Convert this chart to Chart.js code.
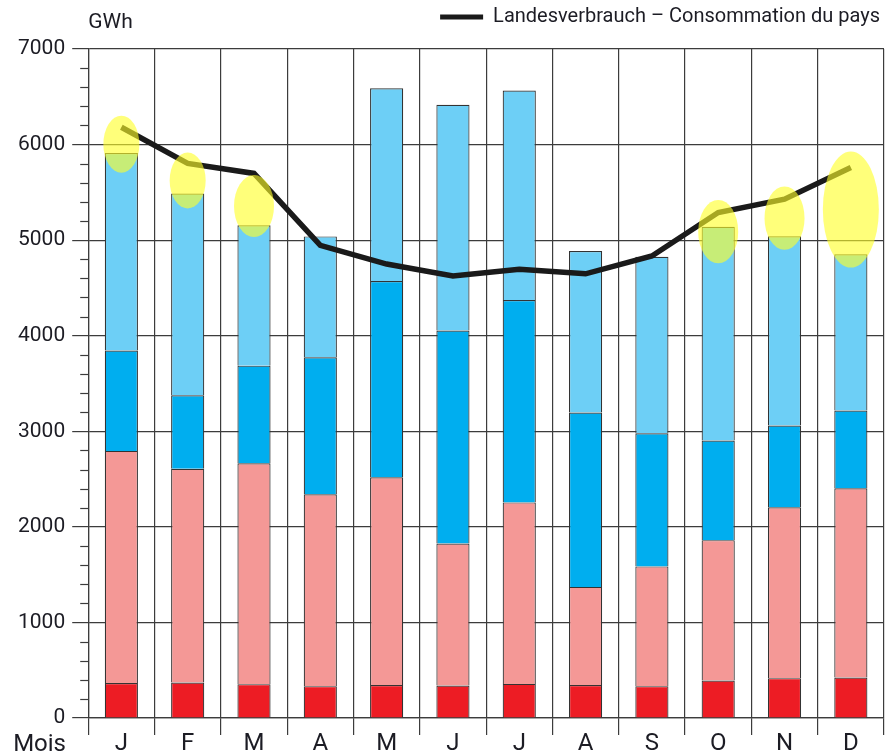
<!DOCTYPE html>
<html>
<head>
<meta charset="utf-8">
<script src="https://cdn.jsdelivr.net/npm/chart.js@4.4.1/dist/chart.umd.min.js"></script>
<style>
  html, body { margin: 0; padding: 0; background: #fff; }
  #wrap { width: 891px; height: 753px; }
</style>
</head>
<body>
<div id="wrap"><canvas id="myChart"></canvas></div>
<script>
/****************************************************/
/*********************chart data*********************/
/****************************************************/
const months = ['J', 'F', 'M', 'A', 'M', 'J', 'J', 'A', 'S', 'O', 'N', 'D'];
const yTicks = [0, 1000, 2000, 3000, 4000, 5000, 6000, 7000];

// stacked production segments (GWh), bottom to top
const thermal = [367, 371, 354, 333, 346, 340, 357, 346, 333, 392, 417, 424];
const nuclear = [2428, 2236, 2311, 2007, 2172, 1486, 1899, 1026, 1253, 1469, 1787, 1979];
const runOfRiver = [1050, 769, 1022, 1434, 2054, 2229, 2117, 1825, 1394, 1042, 857, 815];
const storage = [2067, 2112, 1469, 1265, 2018, 2361, 2193, 1690, 1846, 2236, 1980, 1634];

// Landesverbrauch – Consommation du pays
const consumption = [6181, 5803, 5698, 4946, 4750, 4624, 4695, 4648, 4834, 5289, 5429, 5761];

// yellow highlight marks (month index, centre value)
const highlightMonths = [0, 1, 2, 9, 10, 11];
const highlightValues = [6004, 5624, 5356, 5089, 5230, 5320];

const FONT = "'Roboto', sans-serif";
const INK = '#1c1c24';
const GRID = '#3c3c3c';

/****************************************************/
/****************extra drawing plugin****************/
/****************************************************/
const extras = {
  id: 'extras',
  beforeDatasetsDraw(chart) {
    // minor ticks on the value axis
    const ctx = chart.ctx;
    const y = chart.scales.y;
    ctx.save();
    ctx.strokeStyle = GRID;
    ctx.lineWidth = 1.2;
    for (let v = 200; v < 7000; v += 200) {
      if (v % 1000 === 0) continue;
      const py = Math.round(y.getPixelForValue(v)) + 0.5;
      ctx.beginPath();
      ctx.moveTo(y.right - 8, py);
      ctx.lineTo(y.right, py);
      ctx.stroke();
    }
    ctx.restore();
  },
  afterDatasetsDraw(chart, args, opts) {
    const ctx = chart.ctx;
    const x = chart.scales.x;
    const y = chart.scales.y;
    const area = chart.chartArea;

    // highlight ellipses
    ctx.save();
    ctx.fillStyle = 'rgba(255, 255, 40, 0.62)';
    highlightMonths.forEach((m, i) => {
      const cx = x.getPixelForValue(m);
      const cy = y.getPixelForValue(highlightValues[i]);
      ctx.beginPath();
      ctx.ellipse(cx, cy, opts.rx[i], opts.ry[i], 0, 0, Math.PI * 2);
      ctx.fill();
    });
    ctx.restore();

    // unit and axis captions
    ctx.save();
    ctx.fillStyle = INK;
    ctx.font = '21px ' + FONT;
    ctx.textAlign = 'left';
    ctx.textBaseline = 'alphabetic';
    ctx.fillText('GWh', area.left, 28);
    ctx.font = '24px ' + FONT;
    ctx.textAlign = 'right';
    ctx.fillText('Mois', 66, area.bottom + 33);
    ctx.restore();
  }
};

/****************************************************/
/*********************the chart**********************/
/****************************************************/
const barStyle = { borderColor: '#333333', borderWidth: 1.2, barPercentage: 0.5, categoryPercentage: 1, order: 1, stack: 'prod' };

let ctx = document.getElementById('myChart').getContext('2d');
let myChart = new Chart(ctx, {
  data: {
    labels: months,
    datasets: [
      Object.assign({ type: 'bar', label: 'Thermique', data: thermal, backgroundColor: '#ed1c24' }, barStyle),
      Object.assign({ type: 'bar', label: 'Nucléaire', data: nuclear, backgroundColor: '#f49896' }, barStyle),
      Object.assign({ type: 'bar', label: 'Au fil de l\'eau', data: runOfRiver, backgroundColor: '#00aeef' }, barStyle),
      Object.assign({ type: 'bar', label: 'Accumulation', data: storage, backgroundColor: '#6dcff6' }, barStyle),
      {
        type: 'line',
        label: 'Landesverbrauch – Consommation du pays',
        data: consumption,
        borderColor: '#1a1a1a',
        backgroundColor: '#1a1a1a',
        borderWidth: 5.5,
        pointRadius: 0,
        tension: 0,
        order: 0,
        stack: 'line'
      }
    ]
  },
  options: {
    responsive: true,
    maintainAspectRatio: false,
    animation: false,
    layout: { padding: { left: 11, right: 7, top: 3, bottom: 0 } },
    scales: {
      x: {
        stacked: true,
        offset: true,
        grid: { offset: true, color: GRID, lineWidth: 1.2, tickLength: 17, tickColor: GRID },
        border: { color: GRID, width: 1.2 },
        ticks: { color: INK, font: { family: FONT, size: 24, lineHeight: 1 }, padding: -3 }
      },
      y: {
        stacked: true,
        min: 0,
        max: 7000,
        afterBuildTicks: (axis) => { axis.ticks = yTicks.map(v => ({ value: v })); },
        grid: { color: GRID, lineWidth: 1.2, tickLength: 16, tickColor: GRID },
        border: { color: GRID, width: 1.2 },
        ticks: { color: INK, font: { family: FONT, size: 21 }, padding: 7, callback: (v) => String(v) }
      }
    },
    plugins: {
      tooltip: { enabled: false },
      title: { display: true, text: ' ', weight: 500, font: { size: 1, lineHeight: 1 }, padding: 5.5 },
      legend: {
        position: 'top',
        align: 'end',
        labels: {
          color: INK,
          font: { family: FONT, size: 20 },
          boxWidth: 43,
          boxHeight: 5,
          padding: 4,
          filter: (item) => item.datasetIndex === 4,
          generateLabels: (chart) => Chart.defaults.plugins.legend.labels.generateLabels(chart).map(l => Object.assign(l, { lineWidth: 0 }))
        }
      },
      extras: {
        rx: [18, 18, 20, 20, 20, 28],
        ry: [28.5, 28, 31, 31.7, 31.7, 58]
      }
    }
  },
  plugins: [extras]
});
</script>
</body>
</html>
